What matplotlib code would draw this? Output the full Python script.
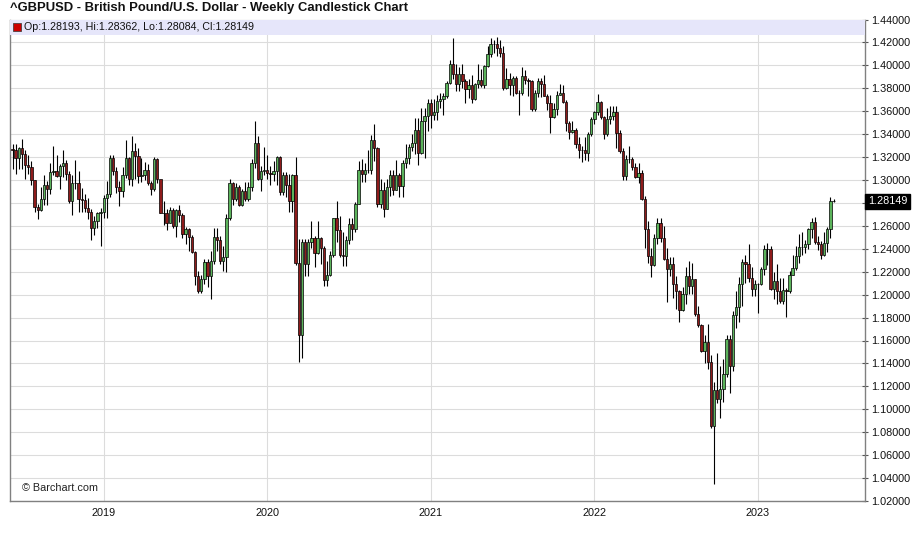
import numpy as np
import pandas as pd
import matplotlib
matplotlib.use("Agg")
import matplotlib.pyplot as plt
from matplotlib.patches import Rectangle
import matplotlib.transforms as mtransforms

plt.rcParams['font.family'] = ['Liberation Sans', 'DejaVu Sans']

# ---------------- data (weekly bars, week starting Monday) ----------------
first_week = "2018-06-18"
first_open = 1.3270
last_open = 1.28193

closes = [
    # 2018
    1.3265, 1.3195, 1.3280, 1.3230, 1.3135, 1.3110, 1.3000, 1.2765, 1.2740, 1.2830,
    1.2960, 1.2925, 1.3070, 1.3075, 1.3035, 1.3120, 1.3150, 1.3050, 1.2815, 1.2970,
    1.2975, 1.2830, 1.2825, 1.2760, 1.2720, 1.2585, 1.2640, 1.2715, 1.2725,
    # 2019
    1.2840, 1.2875, 1.3195, 1.3075, 1.2940, 1.2905, 1.3045, 1.3190, 1.3010, 1.3255,
    1.3210, 1.3035, 1.3045, 1.3085, 1.2975, 1.2920, 1.3185, 1.3005, 1.2715, 1.2710,
    1.2625, 1.2740, 1.2595, 1.2740, 1.2695, 1.2525, 1.2570, 1.2500, 1.2375, 1.2165,
    1.2030, 1.2140, 1.2285, 1.2160, 1.2290, 1.2500, 1.2475, 1.2290, 1.2330, 1.2670,
    1.2970, 1.2835, 1.2940, 1.2780, 1.2900, 1.2835, 1.2935, 1.3150, 1.3325, 1.3010,
    1.3080,
    # 2020
    1.3085, 1.3060, 1.3050, 1.3075, 1.3200, 1.2895, 1.3045, 1.2960, 1.2820, 1.3045,
    1.2280, 1.1650, 1.2460, 1.2265, 1.2460, 1.2490, 1.2365, 1.2495, 1.2405, 1.2130,
    1.2170, 1.2345, 1.2665, 1.2560, 1.2350, 1.2335, 1.2480, 1.2620, 1.2570, 1.2795,
    1.3090, 1.3055, 1.3090, 1.3090, 1.3350, 1.3275, 1.2795, 1.2915, 1.2745, 1.2940,
    1.3045, 1.2915, 1.3040, 1.2945, 1.3150, 1.3190, 1.3285, 1.3320, 1.3440, 1.3235,
    1.3515, 1.3555, 1.3670,
    # 2021
    1.3565, 1.3590, 1.3685, 1.3705, 1.3735, 1.3850, 1.4010, 1.3925, 1.3835, 1.3925,
    1.3865, 1.3790, 1.3830, 1.3710, 1.3840, 1.3870, 1.3830, 1.3995, 1.4095, 1.4185,
    1.4190, 1.4155, 1.4110, 1.3805, 1.3880, 1.3825, 1.3890, 1.3760, 1.3760, 1.3905,
    1.3875, 1.3865, 1.3620, 1.3760, 1.3865, 1.3840, 1.3735, 1.3675, 1.3550, 1.3615,
    1.3745, 1.3760, 1.3680, 1.3495, 1.3415, 1.3440, 1.3315, 1.3260, 1.3265, 1.3235,
    1.3405, 1.3530,
    # 2022
    1.3590, 1.3680, 1.3550, 1.3405, 1.3530, 1.3560, 1.3590, 1.3410, 1.3255, 1.3035,
    1.3180, 1.3185, 1.3115, 1.3030, 1.3060, 1.2835, 1.2575, 1.2335, 1.2260, 1.2490,
    1.2625, 1.2490, 1.2310, 1.2225, 1.2265, 1.2095, 1.2035, 1.1870, 1.2005, 1.2165,
    1.2075, 1.2135, 1.1830, 1.1735, 1.1510, 1.1590, 1.1415, 1.0855, 1.1165, 1.1090,
    1.1175, 1.1305, 1.1615, 1.1375, 1.1820, 1.1890, 1.2095, 1.2285, 1.2265, 1.2145,
    1.2050, 1.2095,
    # 2023
    1.2090, 1.2225, 1.2395, 1.2395, 1.2050, 1.2115, 1.2030, 1.1945, 1.2040, 1.2035,
    1.2175, 1.2230, 1.2335, 1.2415, 1.2415, 1.2440, 1.2570, 1.2635, 1.2455, 1.2445,
    1.2345, 1.2450, 1.2575, 1.2820, 1.28149,
]

highs = [
    # 2018
    1.3315, 1.3315, 1.3285, 1.3360, 1.3260, 1.3215, 1.3170, 1.3000, 1.2795, 1.2935,
    1.3045, 1.2995, 1.3145, 1.3300, 1.3215, 1.3140, 1.3260, 1.3175, 1.3080, 1.3040,
    1.3175, 1.3075, 1.2930, 1.2880, 1.2840, 1.2745, 1.2690, 1.2725, 1.2760,
    # 2019
    1.2865, 1.2990, 1.3215, 1.3220, 1.3110, 1.2990, 1.3110, 1.3350, 1.3200, 1.3380,
    1.3320, 1.3275, 1.3195, 1.3160, 1.3140, 1.2990, 1.3200, 1.3190, 1.3000, 1.2815,
    1.2750, 1.2765, 1.2760, 1.2745, 1.2785, 1.2710, 1.2590, 1.2585, 1.2520, 1.2385,
    1.2210, 1.2175, 1.2310, 1.2310, 1.2385, 1.2585, 1.2585, 1.2515, 1.2420, 1.2705,
    1.3010, 1.2985, 1.2975, 1.2955, 1.2925, 1.2985, 1.2980, 1.3180, 1.3515, 1.3380,
    1.3120,
    # 2020
    1.3285, 1.3215, 1.3120, 1.3165, 1.3210, 1.3210, 1.3070, 1.3070, 1.3050, 1.3050,
    1.3200, 1.2485, 1.2485, 1.2485, 1.2485, 1.2645, 1.2515, 1.2645, 1.2500, 1.2425,
    1.2295, 1.2385, 1.2670, 1.2815, 1.2690, 1.2545, 1.2515, 1.2670, 1.2670, 1.2805,
    1.3170, 1.3185, 1.3145, 1.3265, 1.3395, 1.3485, 1.3285, 1.3010, 1.2980, 1.3010,
    1.3085, 1.3085, 1.3175, 1.3065, 1.3175, 1.3310, 1.3310, 1.3400, 1.3540, 1.3540,
    1.3625, 1.3625, 1.3705,
    # 2021
    1.3705, 1.3710, 1.3745, 1.3760, 1.3760, 1.3865, 1.4050, 1.4240, 1.4015, 1.3990,
    1.4015, 1.3885, 1.3885, 1.3920, 1.3850, 1.4010, 1.3965, 1.4005, 1.4165, 1.4235,
    1.4220, 1.4250, 1.4220, 1.4165, 1.3975, 1.3935, 1.3910, 1.3910, 1.3785, 1.3985,
    1.3960, 1.3890, 1.3870, 1.3785, 1.3890, 1.3890, 1.3915, 1.3750, 1.3745, 1.3675,
    1.3775, 1.3835, 1.3830, 1.3700, 1.3515, 1.3515, 1.3455, 1.3375, 1.3300, 1.3375,
    1.3415, 1.3550,
    # 2022
    1.3600, 1.3750, 1.3690, 1.3560, 1.3630, 1.3645, 1.3645, 1.3645, 1.3440, 1.3275,
    1.3215, 1.3300, 1.3200, 1.3150, 1.3145, 1.3090, 1.2860, 1.2640, 1.2405, 1.2525,
    1.2665, 1.2665, 1.2600, 1.2405, 1.2325, 1.2325, 1.2165, 1.2040, 1.2065, 1.2245,
    1.2295, 1.2275, 1.2140, 1.1900, 1.1740, 1.1650, 1.1740, 1.1475, 1.1235, 1.1495,
    1.1380, 1.1440, 1.1645, 1.1645, 1.1855, 1.2030, 1.2155, 1.2310, 1.2345, 1.2445,
    1.2240, 1.2125,
    # 2023
    1.2105, 1.2245, 1.2435, 1.2450, 1.2420, 1.2195, 1.2270, 1.2145, 1.2145, 1.2055,
    1.2205, 1.2345, 1.2425, 1.2525, 1.2545, 1.2475, 1.2585, 1.2665, 1.2680, 1.2515,
    1.2470, 1.2545, 1.2590, 1.2850, 1.28362,
]

lows = [
    # 2018
    1.3100, 1.3050, 1.3100, 1.3100, 1.3010, 1.3050, 1.2955, 1.2725, 1.2660, 1.2730,
    1.2785, 1.2785, 1.2880, 1.3040, 1.3030, 1.2920, 1.3030, 1.3000, 1.2800, 1.2695,
    1.2925, 1.2725, 1.2725, 1.2720, 1.2660, 1.2475, 1.2520, 1.2585, 1.2420,
    # 2019
    1.2670, 1.2670, 1.2855, 1.3040, 1.2890, 1.2775, 1.2850, 1.3015, 1.2960, 1.2945,
    1.3005, 1.2975, 1.2985, 1.3000, 1.2960, 1.2865, 1.2905, 1.2970, 1.2710, 1.2605,
    1.2560, 1.2625, 1.2580, 1.2505, 1.2630, 1.2495, 1.2440, 1.2380, 1.2365, 1.2080,
    1.2015, 1.2015, 1.2095, 1.2070, 1.1960, 1.2270, 1.2385, 1.2270, 1.2210, 1.2195,
    1.2650, 1.2785, 1.2820, 1.2770, 1.2770, 1.2820, 1.2815, 1.2900, 1.3105, 1.3000,
    1.2905,
    # 2020
    1.3040, 1.3010, 1.2960, 1.2995, 1.2960, 1.2870, 1.2870, 1.2850, 1.2725, 1.2725,
    1.2260, 1.1410, 1.1445, 1.2165, 1.2160, 1.2405, 1.2245, 1.2355, 1.2265, 1.2075,
    1.2075, 1.2160, 1.2330, 1.2455, 1.2330, 1.2250, 1.2250, 1.2440, 1.2480, 1.2545,
    1.2795, 1.2980, 1.2985, 1.3060, 1.3055, 1.3165, 1.2765, 1.2760, 1.2675, 1.2745,
    1.2860, 1.2865, 1.2910, 1.2855, 1.2855, 1.3105, 1.3140, 1.3255, 1.3225, 1.3135,
    1.3225, 1.3190, 1.3425,
    # 2021
    1.3450, 1.3520, 1.3520, 1.3625, 1.3565, 1.3715, 1.3835, 1.3885, 1.3775, 1.3780,
    1.3800, 1.3670, 1.3715, 1.3670, 1.3700, 1.3800, 1.3810, 1.3800, 1.3990, 1.4075,
    1.4110, 1.4085, 1.4075, 1.3785, 1.3790, 1.3740, 1.3730, 1.3750, 1.3570, 1.3745,
    1.3840, 1.3730, 1.3600, 1.3605, 1.3725, 1.3725, 1.3730, 1.3610, 1.3410, 1.3540,
    1.3570, 1.3740, 1.3670, 1.3425, 1.3355, 1.3410, 1.3280, 1.3195, 1.3160, 1.3175,
    1.3170, 1.3380,
    # 2022
    1.3490, 1.3570, 1.3535, 1.3360, 1.3385, 1.3490, 1.3525, 1.3275, 1.3235, 1.3000,
    1.3000, 1.3145, 1.3090, 1.3015, 1.2975, 1.2825, 1.2410, 1.2275, 1.2155, 1.2250,
    1.2440, 1.2460, 1.2300, 1.1935, 1.2160, 1.1975, 1.1875, 1.1760, 1.1855, 1.1915,
    1.2005, 1.2005, 1.1810, 1.1715, 1.1500, 1.1405, 1.1350, 1.0840, 1.0350, 1.1055,
    1.0925, 1.1060, 1.1280, 1.1145, 1.1335, 1.1710, 1.1760, 1.1900, 1.2105, 1.2110,
    1.1990, 1.1990,
    # 2023
    1.1840, 1.2085, 1.2170, 1.2260, 1.2040, 1.1960, 1.1915, 1.1925, 1.1920, 1.1805,
    1.2010, 1.2170, 1.2215, 1.2275, 1.2345, 1.2365, 1.2395, 1.2490, 1.2445, 1.2390,
    1.2310, 1.2340, 1.2370, 1.2490, 1.28084,
]

year_labels = ["2019", "2020", "2021", "2022", "2023"]
y_ticks = [1.02, 1.04, 1.06, 1.08, 1.10, 1.12, 1.14, 1.16, 1.18, 1.20, 1.22,
           1.24, 1.26, 1.28, 1.30, 1.32, 1.34, 1.36, 1.38, 1.40, 1.42, 1.44]

# weekly opens follow the prior week's close
opens = [first_open] + closes[:-2] + [last_open]

n = len(closes)
weeks = pd.date_range(first_week, periods=n, freq="7D")
x = np.arange(n)
o = np.array(opens); h = np.array(highs); l = np.array(lows); c = np.array(closes)

# ---------------- figure ----------------
fig = plt.figure(figsize=(9.13, 5.42), dpi=100)
fig.patch.set_facecolor("white")
W, H = 913, 542
ax_l, ax_r, ax_t, ax_b = 10, 865, 19.5, 501
ax = fig.add_axes([ax_l / W, (H - ax_b) / H, (ax_r - ax_l) / W, (ax_b - ax_t) / H])
ax.set_facecolor("white")

ax.set_ylim(1.02, 1.44)
ax.set_xlim(-0.8, 271)

# grid
for yt in y_ticks:
    ax.axhline(yt, color="#dcdcdc", lw=0.8, zorder=0)
year_pos = [int(np.argmax(weeks.year == int(y))) for y in year_labels]
for xp in year_pos:
    ax.axvline(xp, color="#dcdcdc", lw=0.8, zorder=0)

# candles
up = c >= o
green = "#5bb35b"
red = "#8e1b1b"
ax.vlines(x, l, h, color="black", lw=0.8, zorder=2)
body_bottom = np.minimum(o, c)
body_h = np.abs(c - o)
ax.bar(x, body_h, bottom=body_bottom, width=0.74,
       color=np.where(up, green, red), edgecolor="black", linewidth=0.5, zorder=3)

# axes styling
last_close = closes[-1]
ax.yaxis.tick_right()
ax.set_yticks(y_ticks)
# the 1.28000 label sits under the last-price tag, as in the reference
ax.set_yticklabels(["" if abs(v - last_close) < 0.004 else f"{v:.5f}" for v in y_ticks])
ax.tick_params(axis="y", direction="inout", length=5, width=0.8, color="#555555",
               labelsize=7.8, labelcolor="#111111", pad=2)
ax.set_xticks(year_pos)
ax.set_xticklabels(year_labels)
ax.tick_params(axis="x", length=0, labelsize=7.8, labelcolor="#111111", pad=5)
for s in ["left", "bottom", "right"]:
    ax.spines[s].set_color("#808080")
    ax.spines[s].set_linewidth(1.0)
ax.spines["top"].set_color("#a0a0a0")
ax.spines["top"].set_linewidth(0.8)

# header band inside the plot
band_h = 15.5 / (ax_b - ax_t)
ax.add_patch(Rectangle((0, 1 - band_h), 1, band_h, transform=ax.transAxes,
                       facecolor="#e6e6fa", edgecolor="none", zorder=4))
ax.scatter([(17 - ax_l) / (ax_r - ax_l)], [1 - band_h / 2], marker="s", s=28,
           color="#cc0000", edgecolor="#333333", linewidth=0.5,
           transform=ax.transAxes, zorder=5, clip_on=False)
ax.text((24 - ax_l) / (ax_r - ax_l), 1 - band_h / 2,
        f"Op:{opens[-1]:.5f}, Hi:{highs[-1]:.5f}, Lo:{lows[-1]:.5f}, Cl:{closes[-1]:.5f}",
        transform=ax.transAxes, fontsize=7.7, color="#111111", va="center", ha="left", zorder=5)

# watermark
ax.text((22 - ax_l) / (ax_r - ax_l), (ax_b - 488) / (ax_b - ax_t), "\u00a9 Barchart.com",
        transform=ax.transAxes, fontsize=7.8, color="#222222", va="center", ha="left")

# last price tag
trans = mtransforms.blended_transform_factory(ax.transAxes, ax.transData)
ax.text(1.0 + 3 / (ax_r - ax_l), last_close, f"{last_close:.5f}", transform=trans,
        fontsize=7.8, color="white", va="center", ha="left", zorder=10, clip_on=False,
        bbox=dict(boxstyle="square,pad=0.25", facecolor="black", edgecolor="black"))

# title
fig.text(10 / W, 1 - 8 / H, "^GBPUSD - British Pound/U.S. Dollar - Weekly Candlestick Chart",
         fontsize=9.4, fontweight="bold", color="#111111", va="center", ha="left")

fig.savefig("out.png", dpi=100, facecolor="white")
